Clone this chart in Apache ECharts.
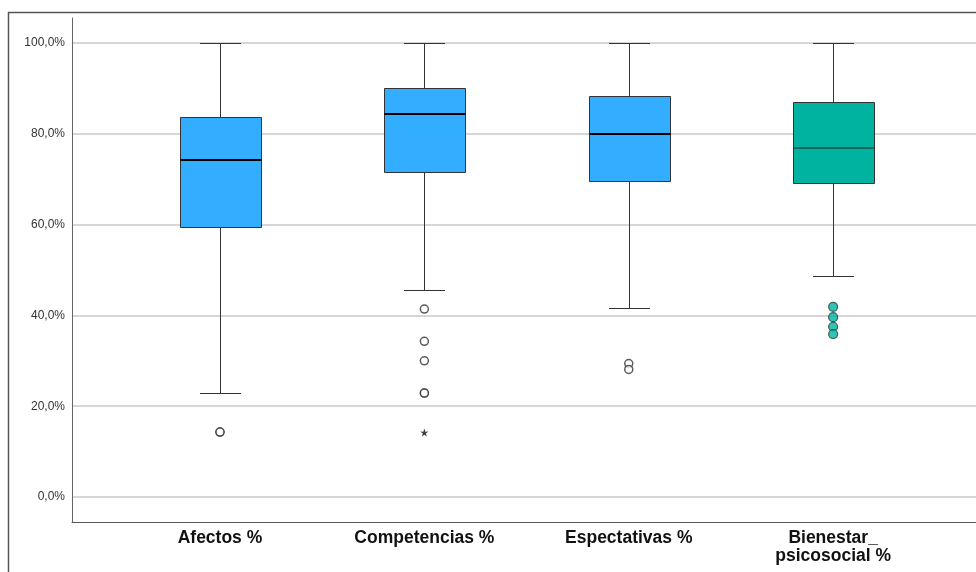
<!DOCTYPE html>
<html>
<head>
<meta charset="utf-8">
<title>Boxplot</title>
<script src="https://cdn.jsdelivr.net/npm/echarts@6/dist/echarts.min.js"></script>
<style>
  html, body { margin: 0; padding: 0; background: #ffffff; }
  #chart { width: 976px; height: 572px; }
</style>
</head>
<body>
<div id="chart"></div>
<script>
// Variables shown on the horizontal axis
const categories = ['Afectos %', 'Competencias %', 'Espectativas %', 'Bienestar_\npsicosocial %'];

// Five-number summaries (percent)
const whiskerLow  = [22.9, 45.6, 41.6, 48.7];
const quartile1   = [59.4, 71.5, 69.5, 69.2];
const medians     = [74.3, 84.3, 79.9, 76.8];
const quartile3   = [83.6, 90.0, 88.3, 86.9];
const whiskerHigh = [100.0, 100.0, 100.0, 100.0];

// Outliers (circles) and extreme values (stars), per category
const outliersAfectos      = [14.3, 14.3];
const outliersCompetencias = [41.4, 34.3, 30.0, 22.9, 22.9];
const outliersEspectativas = [29.4, 28.1];
const outliersBienestar    = [41.9, 39.6, 37.5, 35.9];
const extremesCompetencias = [14.2];

// Y axis tick values
const yTicks = [0, 20, 40, 60, 80, 100];

const BLUE = '#33adff';
const TEAL = '#00b3a0';
const boxFill   = [BLUE, BLUE, BLUE, TEAL];
const medianCol = ['#000000', '#000000', '#000000', '#1f4a44'];
const medianW   = [2, 2, 2, 1.5];

const boxData = categories.map((c, i) =>
  [i, whiskerLow[i], quartile1[i], medians[i], quartile3[i], whiskerHigh[i]]);

function pointsFor(idx, values) {
  return values.map(v => [idx, v]);
}
const circleOpen = []
  .concat(pointsFor(0, outliersAfectos))
  .concat(pointsFor(1, outliersCompetencias))
  .concat(pointsFor(2, outliersEspectativas));
const circleFilled = pointsFor(3, outliersBienestar);
const stars = pointsFor(1, extremesCompetencias);

const crisp = v => Math.round(v) + 0.5;

function renderBox(params, api) {
  const idx = params.dataIndex;
  const x = api.value(0);
  const lo  = api.coord([x, api.value(1)]);
  const q1  = api.coord([x, api.value(2)]);
  const med = api.coord([x, api.value(3)]);
  const q3  = api.coord([x, api.value(4)]);
  const hi  = api.coord([x, api.value(5)]);
  const w = api.size([1, 0])[0] * 0.4;
  const cx = crisp(lo[0]);
  const half = w / 2;
  const capHalf = w / 4;
  const lineStyle = { stroke: '#333333', lineWidth: 1 };
  const left = Math.round(cx - half) + 0.5;
  const right = Math.round(cx + half) + 0.5;
  return {
    type: 'group',
    children: [
      { type: 'line', shape: { x1: cx, y1: crisp(hi[1]), x2: cx, y2: crisp(q3[1]) }, style: lineStyle },
      { type: 'line', shape: { x1: cx, y1: crisp(q1[1]), x2: cx, y2: crisp(lo[1]) }, style: lineStyle },
      { type: 'line', shape: { x1: Math.round(cx - capHalf), y1: crisp(hi[1]), x2: Math.round(cx + capHalf), y2: crisp(hi[1]) }, style: lineStyle },
      { type: 'line', shape: { x1: Math.round(cx - capHalf), y1: crisp(lo[1]), x2: Math.round(cx + capHalf), y2: crisp(lo[1]) }, style: lineStyle },
      { type: 'rect',
        shape: { x: left, y: crisp(q3[1]), width: right - left, height: crisp(q1[1]) - crisp(q3[1]) },
        style: { fill: boxFill[idx], stroke: '#333333', lineWidth: 1 } },
      { type: 'line',
        shape: { x1: left, y1: Math.round(med[1]), x2: right, y2: Math.round(med[1]) },
        style: { stroke: medianCol[idx], lineWidth: medianW[idx] } }
    ]
  };
}

const chart = echarts.init(document.getElementById('chart'), null, { renderer: 'canvas' });

const fmtPct = v => v.toFixed(1).replace('.', ',') + '%';

chart.setOption({
  animation: false,
  backgroundColor: '#ffffff',
  graphic: [{
    type: 'rect',
    silent: true,
    shape: { x: 8.5, y: 12.5, width: 1000, height: 600 },
    style: { fill: 'none', stroke: '#555555', lineWidth: 1.5 },
    z: 100
  }],
  grid: { left: 72, right: 0, top: 18, bottom: 50, containLabel: false },
  xAxis: {
    type: 'value',
    min: -0.724,
    max: 3.699,
    splitLine: { show: false },
    axisTick: { show: false },
    axisLine: { show: true, onZero: false, lineStyle: { color: '#555555', width: 1 } },
    axisLabel: {
      customValues: [0, 1, 2, 3],
      showMinLabel: true,
      showMaxLabel: true,
      formatter: v => categories[Math.round(v)],
      margin: 7,
      fontFamily: 'Liberation Sans, Arial, sans-serif',
      fontWeight: 'bold',
      fontSize: 17.5,
      lineHeight: 18,
      color: '#111111',
      verticalAlign: 'top'
    }
  },
  yAxis: {
    type: 'value',
    min: -5.5,
    max: 105.5,
    axisLine: { show: true, onZero: false, lineStyle: { color: '#666666', width: 1 } },
    axisTick: { show: false },
    splitLine: {
      show: true,
      showMinLine: false,
      showMaxLine: false,
      lineStyle: { color: '#d6d6d6', width: 2 }
    },
    axisLabel: {
      customValues: yTicks,
      formatter: fmtPct,
      margin: 7,
      fontFamily: 'Liberation Sans, Arial, sans-serif',
      fontSize: 12,
      color: '#333333'
    }
  },
  series: [
    {
      type: 'custom',
      name: 'box',
      renderItem: renderBox,
      encode: { x: 0, y: [1, 2, 3, 4, 5] },
      data: boxData,
      z: 3
    },
    {
      type: 'scatter',
      name: 'outliers',
      data: circleOpen,
      symbol: 'circle',
      symbolSize: 8,
      itemStyle: { color: '#ffffff', borderColor: '#333333', borderWidth: 1.5 },
      z: 4
    },
    {
      type: 'scatter',
      name: 'outliers2',
      data: circleFilled,
      symbol: 'circle',
      symbolSize: 9,
      itemStyle: { color: TEAL, borderColor: '#1f3f3a', borderWidth: 1.2 },
      z: 4
    },
    {
      type: 'scatter',
      name: 'extremes',
      data: stars,
      symbol: 'path://M50,0 L61.8,35.1 L97.6,34.5 L69,56.2 L79.4,90.5 L50,70 L20.6,90.5 L31,56.2 L2.4,34.5 L38.2,35.1 Z',
      symbolSize: 8,
      itemStyle: { color: '#111111' },
      z: 4
    }
  ]
});
</script>
</body>
</html>
